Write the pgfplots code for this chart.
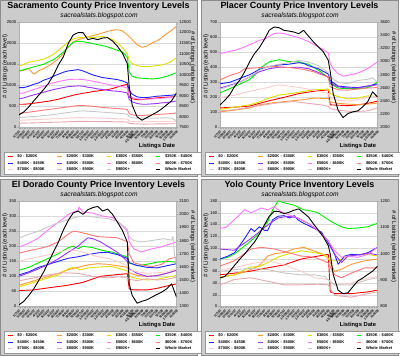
\documentclass[border=0pt]{standalone}
\usepackage{pgfplots}
\pgfplotsset{compat=1.18}
\usepackage{fontspec}
\setmainfont{Liberation Sans}
\definecolor{c1}{HTML}{FF0000}
\definecolor{c2}{HTML}{FF9933}
\definecolor{c3}{HTML}{E0E000}
\definecolor{c4}{HTML}{00EE00}
\definecolor{c5}{HTML}{2222FF}
\definecolor{c6}{HTML}{9933FF}
\definecolor{c7}{HTML}{FF77FF}
\definecolor{c8}{HTML}{FF7777}
\definecolor{c9}{HTML}{FFCCCC}
\definecolor{c10}{HTML}{E8A8B0}
\definecolor{c11}{HTML}{C8C8C8}
\definecolor{panelbg}{HTML}{CCCCCC}
\definecolor{panelbd}{HTML}{8C8C8C}

\newcommand\panelframe[3]{%
  \fill[panelbg, draw=panelbd, line width=0.6bp] (#1bp+0.5bp,#2bp-0.5bp) rectangle (#1bp+197.5bp,#2bp-176bp);
  \node[font=\fontsize{9}{10}\selectfont\bfseries, inner sep=0] at (#1bp+98.5bp,#2bp-6.5bp) {#3};
  \node[font=\fontsize{6.7}{7}\selectfont\itshape, inner sep=0] at (#1bp+99bp,#2bp-15.5bp) {sacrealstats.blogspot.com};
}

\pgfplotsset{
  base/.style={
    scale only axis, width=157.5bp, height=105.5bp,
    anchor=south west,
    xmin=0, xmax=32,
    scaled y ticks=false, scaled x ticks=false,
    every axis plot/.append style={line width=0.9bp, line join=round, no markers},
    tick label style={font=\fontsize{4.2}{5}\selectfont},
    /pgf/number format/assume math mode=true,
    /pgf/number format/1000 sep={},
    axis line style={draw=gray!60, line width=0.4bp},
    tick style={draw=gray!70, line width=0.3bp},
    tick align=outside,
    major tick length=1.8bp,
    minor tick length=1.2bp,
    yticklabel style={inner sep=0.8bp},
  },
  leftax/.style={base,
    axis background/.style={fill=white},
    ymajorgrids, major grid style={draw=gray!30, line width=0.4bp},
    xtick={0,...,32},
    xticklabels={1/7/07,1/28/07,2/18/07,3/11/07,4/1/07,4/22/07,5/13/07,6/3/07,6/24/07,7/15/07,8/5/07,8/26/07,9/16/07,10/7/07,10/28/07,11/18/07,12/9/07,12/30/07,1/20/08,2/10/08,3/2/08,3/23/08,4/13/08,5/4/08,5/25/08,6/15/08,7/6/08,7/27/08,8/17/08,9/7/08,9/28/08,10/19/08,11/9/08},
    extra x ticks={22.4}, extra x tick labels={4/19/08},
    extra x tick style={xticklabel style={yshift=-4.5bp}},
    minor x tick num=2,
    xtick pos=left, ytick pos=left,
    x tick label style={rotate=45, anchor=north east, font=\fontsize{3.3}{4}\selectfont\bfseries, inner sep=0.6bp},
    ylabel={\# of Listings (each level)},
    ylabel style={at={(axis description cs:-0.089,0.58)}, anchor=center, font=\fontsize{5.9}{6}\selectfont},
    xlabel={Listings Date},
    xlabel style={at={(axis description cs:0.876,-0.175)}, anchor=center, font=\fontsize{5.8}{6}\selectfont\bfseries},
    legend columns=4,
    legend cell align=left,
    legend style={at={(-0.0952,-0.2322)}, anchor=north west, draw=gray!80, fill=white, line width=0.4bp,
      font=\fontsize{4}{4.5}\selectfont\bfseries,
      inner xsep=3.3bp, inner ysep=2.4bp, row sep=1.9bp,
      nodes={inner sep=0.3bp, text width=32.4bp, text height=3bp, text depth=0.9bp},
      /tikz/every odd column/.append style={column sep=4bp},
      /tikz/every even column/.append style={column sep=6.6bp}},
    legend image code/.code={\draw[##1, line width=1.2bp] (0bp,0bp) -- (4.4bp,0bp);},
  },
  rightax/.style={base,
    axis x line=none, axis y line*=right,
    ylabel={\# of Listings (whole market)},
    ylabel style={at={(axis description cs:1.103,0.57)}, anchor=center, rotate=180, font=\fontsize{5.9}{6}\selectfont},
  },
}
\newcommand\legendall{%
  \addlegendimage{black}
  \legend{\$0 - \$200K,\$200K - \$300K,\$300K - \$350K,\$350K - \$400K,\$400K - \$450K,\$450K - \$500K,\$500K - \$600K,\$600K - \$700K,\$700K - \$800K,\$800K - \$900K,\$900K+,Whole Market}}

\begin{document}
\begin{tikzpicture}
\useasboundingbox (0bp,0bp) rectangle (400bp,356bp);
\fill[white] (0bp,0bp) rectangle (400bp,356bp);
\panelframe{0}{356}{Sacramento County Price Inventory Levels}
\panelframe{201}{356}{Placer County Price Inventory Levels}
\panelframe{0}{177}{El Dorado County Price Inventory Levels}
\panelframe{201}{177}{Yolo County Price Inventory Levels}

% ---------------- Sacramento ----------------
\begin{axis}[leftax, at={(19bp,228.5bp)}, ymin=0, ymax=2500, ytick={0,500,...,2500}]
\addplot[c1] coordinates {(0,552)(1,552)(2,560)(3,576)(4,591)(5,607)(6,623)(7,647)(8,670)(9,702)(10,733)(11,765)(12,789)(13,812)(14,828)(15,852)(16,867)(17,883)(18,899)(19,923)(20,962)(21,994)(22,1025)(22.4,725)(23,678)(24,662)(25,662)(26,678)(27,686)(28,702)(29,710)(30,718)(31,725)(32,741)};
\addplot[c2] coordinates {(0,1333)(1,1356)(2,1396)(3,1262)(4,1341)(5,1396)(6,1459)(7,1538)(8,1632)(9,1751)(10,1908)(11,2027)(12,2082)(13,2113)(14,2145)(15,2177)(16,2208)(17,2240)(18,2279)(19,2303)(20,2318)(21,2287)(22,2200)(22.4,2150)(23,2080)(24,1960)(25,1900)(26,1930)(27,2003)(28,2050)(29,2129)(30,2224)(31,2303)(32,2397)};
\addplot[c3] coordinates {(0,1451)(1,1498)(2,1546)(3,1569)(4,1593)(5,1617)(6,1672)(7,1735)(8,1830)(9,1924)(10,2027)(11,2098)(12,2129)(13,2129)(14,2145)(15,2129)(16,2145)(17,2161)(18,2129)(19,2082)(20,2003)(21,1893)(22,1751)(22.4,1593)(23,1514)(24,1467)(25,1443)(26,1443)(27,1451)(28,1467)(29,1483)(30,1514)(31,1569)(32,1656)};
\addplot[c4] coordinates {(0,1341)(1,1372)(2,1404)(3,1435)(4,1467)(5,1498)(6,1554)(7,1609)(8,1688)(9,1790)(10,1908)(11,2019)(12,2042)(13,2035)(14,2011)(15,1987)(16,1964)(17,1940)(18,1908)(19,1869)(20,1830)(21,1790)(22,1672)(22.4,1317)(23,1214)(24,1175)(25,1167)(26,1159)(27,1151)(28,1159)(29,1183)(30,1214)(31,1254)(32,1301)};
\addplot[c5] coordinates {(0,946)(1,946)(2,978)(3,1025)(4,1057)(5,1120)(6,1159)(7,1214)(8,1262)(9,1309)(10,1341)(11,1356)(12,1372)(13,1341)(14,1293)(15,1246)(16,1214)(17,1183)(18,1167)(19,1151)(20,1135)(21,1104)(22,1057)(22.4,883)(23,789)(24,725)(25,710)(26,710)(27,725)(28,741)(29,749)(30,757)(31,765)(32,781)};
\addplot[c6] coordinates {(0,678)(1,702)(2,741)(3,773)(4,804)(5,836)(6,867)(7,899)(8,923)(9,946)(10,970)(11,978)(12,986)(13,978)(14,954)(15,938)(16,915)(17,899)(18,883)(19,867)(20,860)(21,844)(22,820)(22.4,662)(23,607)(24,568)(25,552)(26,552)(27,560)(28,568)(29,584)(30,591)(31,607)(32,631)};
\addplot[c7] coordinates {(0,804)(1,820)(2,860)(3,899)(4,938)(5,978)(6,1025)(7,1057)(8,1088)(9,1112)(10,1136)(11,1143)(12,1143)(13,1136)(14,1120)(15,1096)(16,1073)(17,1049)(18,1025)(19,1001)(20,986)(21,970)(22,938)(22.4,765)(23,710)(24,678)(25,670)(26,670)(27,678)(28,686)(29,694)(30,702)(31,718)(32,741)};
\addplot[c8] coordinates {(0,331)(1,347)(2,363)(3,379)(4,394)(5,410)(6,426)(7,442)(8,457)(9,473)(10,489)(11,505)(12,520)(13,520)(14,513)(15,505)(16,489)(17,473)(18,465)(19,457)(20,450)(21,442)(22,426)(22.4,331)(23,300)(24,284)(25,284)(26,292)(27,300)(28,308)(29,315)(30,323)(31,331)(32,347)};
\addplot[c9] coordinates {(0,170)(6,200)(12,235)(16,225)(22,200)(22.4,150)(25,135)(32,150)};
\addplot[c10] coordinates {(0,100)(6,120)(12,145)(18,140)(22,130)(22.4,95)(25,80)(32,90)};
\addplot[c11] coordinates {(0,237)(1,244)(2,252)(3,260)(4,268)(5,284)(6,292)(7,308)(8,323)(9,339)(10,355)(11,371)(12,386)(13,394)(14,386)(15,379)(16,371)(17,363)(18,355)(19,347)(20,339)(21,331)(22,315)(22.4,252)(23,229)(24,221)(25,221)(26,221)(27,221)(28,221)(29,229)(30,229)(31,221)(32,158)};
\legendall
\end{axis}
\begin{axis}[rightax, at={(19bp,228.5bp)}, ymin=7500, ymax=12500, ytick={7500,8000,...,12500}]
\addplot[black] coordinates {(0,8100)(1,8242)(2,8478)(3,8762)(4,9030)(5,9298)(6,9598)(7,9976)(8,10466)(9,10844)(10,11474)(11,11884)(12,11996)(13,12000)(14,11664)(15,11727)(16,11664)(17,11742)(18,11758)(19,11600)(20,11348)(21,11033)(22,10528)(22.4,9424)(23,8556)(24,8004)(25,7847)(26,7973)(27,8099)(28,8225)(29,8383)(30,8572)(31,8762)(32,9140)};
\end{axis}

% ---------------- Placer ----------------
\begin{axis}[leftax, at={(220bp,228.5bp)}, ymin=0, ymax=700, ytick={0,100,...,700}]
\addplot[c1] coordinates {(0,130)(3,135)(6,142)(9.7,175)(13,200)(16,225)(19,240)(22,250)(22.4,150)(24,148)(26,145)(28,150)(30,160)(32,175)};
\addplot[c2] coordinates {(0,104)(3,115)(6,130)(8,150)(11,165)(14,175)(17,185)(19,195)(22,192)(22.4,170)(24,160)(26,155)(28,152)(30,155)(32,162)};
\addplot[c3] coordinates {(0,120)(3,135)(6,150)(8,170)(10,195)(12,215)(15,228)(18,245)(20,252)(22,255)(22.4,225)(24,205)(26,190)(28,195)(30,210)(32,205)};
\addplot[c4] coordinates {(0,230)(2,258)(4,287)(6,318)(7,347)(8,391)(10,435)(12,450)(14,437)(16,435)(18,420)(20,380)(22,331)(22.4,291)(24,261)(26,258)(28,258)(30,265)(31,280)(32,302)};
\addplot[c5] coordinates {(0,290)(2,300)(4,325)(6,350)(8,385)(10,405)(12,415)(14,420)(16,430)(17,425)(18,410)(20,390)(22,355)(22.4,310)(24,275)(26,268)(28,265)(30,275)(32,290)};
\addplot[c6] coordinates {(0,262)(2,280)(4,300)(6,335)(8,370)(10,390)(12,400)(14,398)(16,400)(18,390)(20,365)(22,335)(22.4,295)(24,270)(26,262)(28,262)(30,275)(32,283)};
\addplot[c7] coordinates {(0,490)(1,497)(2,506)(3,512)(4,523)(5,534)(6,550)(7,563)(8,579)(9,585)(10,605)(11,623)(12,627)(13,623)(14,614)(15,605)(16,596)(17,583)(18,570)(19,552)(20,534)(21,517)(22,495)(22.4,424)(23,391)(24,358)(25,340)(26,347)(27,353)(28,362)(29,375)(30,391)(31,413)(32,435)};
\addplot[c8] coordinates {(0,316)(2,345)(4,365)(5,390)(7,395)(9,400)(11,405)(13,400)(15,395)(17,385)(19,370)(21,345)(22,335)(22.4,270)(24,250)(26,248)(28,255)(30,262)(32,265)};
\addplot[c9] coordinates {(0,200)(3,215)(6,240)(9,260)(12,283)(14,275)(16,265)(18,255)(20,240)(22,225)(22.4,200)(24,180)(26,175)(28,185)(30,200)(32,210)};
\addplot[c10] coordinates {(0,110)(3,118)(6,135)(9,150)(12,165)(15,172)(18,160)(21,148)(22,140)(22.4,125)(24,115)(27,105)(30,110)(32,130)};
\addplot[c11] coordinates {(0,255)(2,275)(4,300)(6,335)(8,380)(10,405)(12,420)(14,430)(16,446)(18,435)(20,410)(22,365)(22.4,336)(24,300)(26,290)(27,300)(28,312)(30,320)(31,330)(32,300)};
\legendall
\end{axis}
\begin{axis}[rightax, at={(220bp,228.5bp)}, ymin=2000, ymax=3600, ytick={2000,2200,...,3600}]
\addplot[black] coordinates {(0,2343)(1,2414)(2,2500)(3,2626)(4,2717)(5,2843)(6,2994)(7,3120)(8,3211)(9,3333)(10,3474)(11,3524)(12,3514)(13,3474)(14,3463)(15,3448)(16,3423)(17,3474)(18,3383)(19,3297)(20,3221)(21,3146)(22,3019)(22.4,2843)(23,2515)(24,2262)(25,2151)(26,2212)(27,2237)(28,2252)(29,2313)(30,2389)(31,2540)(32,2464)};
\end{axis}

% ---------------- El Dorado ----------------
\begin{axis}[leftax, at={(19bp,49.5bp)}, ymin=0, ymax=350, ytick={0,50,...,350}]
\addplot[c1] coordinates {(0,53)(3,55)(6,62)(9.7,70)(13,80)(16.5,100)(20,106)(22,109)(22.4,58)(23.3,55)(26,55)(28,60)(30,68)(32,75)};
\addplot[c2] coordinates {(0,70)(2,80)(4,90)(6,100)(8,110)(10,122)(12,130)(14,138)(16,142)(18,140)(20,135)(22,130)(22.4,112)(24,103)(26,100)(28,103)(30,110)(32,120)};
\addplot[c3] coordinates {(0,65)(2,75)(4,85)(6,95)(8,105)(10,125)(11,130)(12.5,122)(14,128)(16.5,131)(18.5,133)(20,128)(22,118)(22.4,100)(24,92)(26,88)(28,90)(30,97)(32,103)};
\addplot[c4] coordinates {(0,120)(2,130)(4,145)(6,160)(8,175)(10,195)(11,200)(12,192)(13,200)(15,195)(17,186)(19,180)(21,170)(22,164)(22.4,145)(24,136)(26,140)(28,147)(30,150)(32,147)};
\addplot[c5] coordinates {(0,105)(2,115)(4,130)(6,140)(8,150)(10,160)(12,165)(14,172)(16,178)(18,180)(20,172)(22,160)(22.4,145)(24,136)(26,130)(28,128)(30,135)(32,142)};
\addplot[c6] coordinates {(0,100)(2,112)(4,125)(6,140)(8,158)(10,180)(12,200)(13,215)(14,228)(15,225)(16.5,215)(18,200)(20,180)(22,150)(22.4,125)(24,110)(26,100)(28,102)(30,110)(32,120)};
\addplot[c7] coordinates {(0,197)(2,210)(4,228)(6,255)(8,280)(10,305)(11,313)(12,319)(12.2,330)(13,313)(15,310)(17,300)(19,295)(20.6,275)(22,250)(22.4,215)(23.3,192)(24.7,181)(26.7,190)(28.7,197)(32,214)};
\addplot[c8] coordinates {(0,177)(2,185)(4,192)(6,200)(8,215)(10,240)(11,250)(12,248)(14,240)(16,232)(18,230)(20,228)(22,215)(22.4,175)(23.3,145)(25,138)(27,132)(29,140)(30.5,158)(32,164)};
\addplot[c9] coordinates {(0,150)(2,158)(4,165)(6,172)(8,180)(10,188)(12,185)(14,175)(16,165)(18,160)(20,150)(22,135)(22.4,122)(24,115)(26,110)(28,112)(30,115)(32,125)};
\addplot[c10] coordinates {(0,85)(3,95)(6,105)(9,112)(12,110)(15,100)(18,95)(20,98)(22,97)(22.4,90)(24,86)(26,92)(28,88)(30,90)(32,97)};
\addplot[c11] coordinates {(0,227)(2,240)(4,250)(6,265)(8,278)(10,288)(12,298)(14,300)(16,295)(18,292)(20,282)(22,258)(22.4,232)(23.3,219)(24.7,214)(26.7,218)(29.4,225)(31,220)(31.3,232)(31.6,170)(32,140)};
\legendall
\end{axis}
\begin{axis}[rightax, at={(19bp,49.5bp)}, ymin=1300, ymax=2100, ytick={1300,1400,...,2100}]
\addplot[black] coordinates {(0,1313)(1,1340)(2,1384)(3,1434)(4,1497)(5,1561)(6,1637)(7,1713)(8,1789)(9,1878)(10,1953)(11,2009)(12,2024)(13,1999)(14,2034)(15,2050)(16,2059)(17,2024)(18,2039)(19,1999)(20,1940)(21,1878)(22,1789)(22.4,1472)(23,1384)(24,1325)(25,1340)(26,1351)(27,1371)(28,1391)(29,1409)(30,1434)(31,1472)(32,1371)};
\end{axis}

% ---------------- Yolo ----------------
\begin{axis}[leftax, at={(220bp,49.5bp)}, ymin=0, ymax=180, ytick={0,20,...,180}]
\addplot[c1] coordinates {(0,54)(3,57)(6,60)(9.7,66)(13,71)(16.5,81)(19.9,86)(22,89)(22.4,25)(23.3,22)(26.7,22)(30.1,25)(32,28)};
\addplot[c2] coordinates {(0,50)(3,54)(6,62)(8,70)(9.7,86)(11,90)(13,92)(15,98)(17,101)(19,95)(21,89)(22,82)(22.4,75)(23.3,60)(24.5,63)(26.7,72)(29.4,78)(32,81)};
\addplot[c3] coordinates {(0,50)(3,54)(6,67)(8,68)(9.7,75)(12,85)(14,90)(16.5,95)(19,92)(21,89)(22.6,78)(24,78)(26,86)(28,89)(30,89)(32,86)};
\addplot[c4] coordinates {(0,81)(1.6,84)(3,90)(6,110)(8,125)(9.7,145)(10.7,165)(11.8,180)(13,177)(15,173)(17,165)(18.5,163)(19.9,160)(21.3,152)(22.6,145)(23.3,142)(24.7,136)(26,133)(28,134)(30,136)(32,142)};
\addplot[c5] coordinates {(0,81)(1.6,86)(3,92)(5,116)(6.3,133)(7,128)(8,136)(9,130)(9.7,130)(10.7,148)(11.8,154)(13,155)(14.1,151)(15.1,155)(15.8,148)(17,142)(18.5,136)(20.6,127)(21.9,110)(23.3,89)(24,72)(25.3,86)(26.7,89)(28.5,88)(30.1,92)(32,101)};
\addplot[c6] coordinates {(0,98)(2.9,96)(6.3,116)(9.7,139)(11.8,151)(13.8,154)(15.8,151)(17.9,142)(19.9,130)(21.9,113)(23.3,89)(24.7,75)(26,86)(28,88)(30.1,91)(32,88)};
\addplot[c7] coordinates {(0,133)(1.2,135)(2.9,148)(5,165)(6.3,160)(8.4,168)(9.7,165)(11,170)(12.4,162)(13.8,157)(15.8,151)(17.9,142)(19.9,130)(21.9,113)(23.3,95)(24.7,84)(26,86)(28,84)(30.1,89)(32,101)};
\addplot[c8] coordinates {(0,69)(2.9,78)(6.3,98)(8.4,101)(11.1,98)(13.8,92)(16.5,86)(19.2,84)(21.9,75)(23.3,54)(24.7,49)(26.7,57)(29.4,66)(32,66)};
\addplot[c9] coordinates {(0,63)(2.9,66)(6.3,73)(9.7,78)(13.1,71)(16.5,60)(19.2,49)(21.9,46)(23.3,37)(26.7,40)(30.1,49)(32,51)};
\addplot[c10] coordinates {(0,37)(2.9,46)(6.3,49)(9.7,43)(13.1,37)(16.5,37)(19.9,38)(21.9,37)(23.3,19)(26.7,16)(30.1,22)(32,25)};
\addplot[c11] coordinates {(0,60)(2.9,63)(6.3,65)(9.7,63)(13.1,57)(16.5,54)(19.2,54)(21.3,51)(22.3,43)(23.3,37)(26.7,37)(30.1,46)(32,49)};
\legendall
\end{axis}
\begin{axis}[rightax, at={(220bp,49.5bp)}, ymin=800, ymax=1200, ytick={800,900,...,1200}]
\addplot[black] coordinates {(0,908)(1,914)(2,934)(3,957)(4,979)(5,999)(6,1022)(7,1044)(8,1074)(9,1109)(10,1142)(11,1161)(12,1160)(13,1152)(14,1157)(15,1165)(16,1170)(17,1155)(18,1139)(19,1113)(20,1089)(21,1064)(22,1031)(22.4,999)(23,921)(24,862)(25,849)(26,852)(27,875)(28,897)(29,908)(30,921)(31,934)(32,953)};
\end{axis}
\end{tikzpicture}
\end{document}
